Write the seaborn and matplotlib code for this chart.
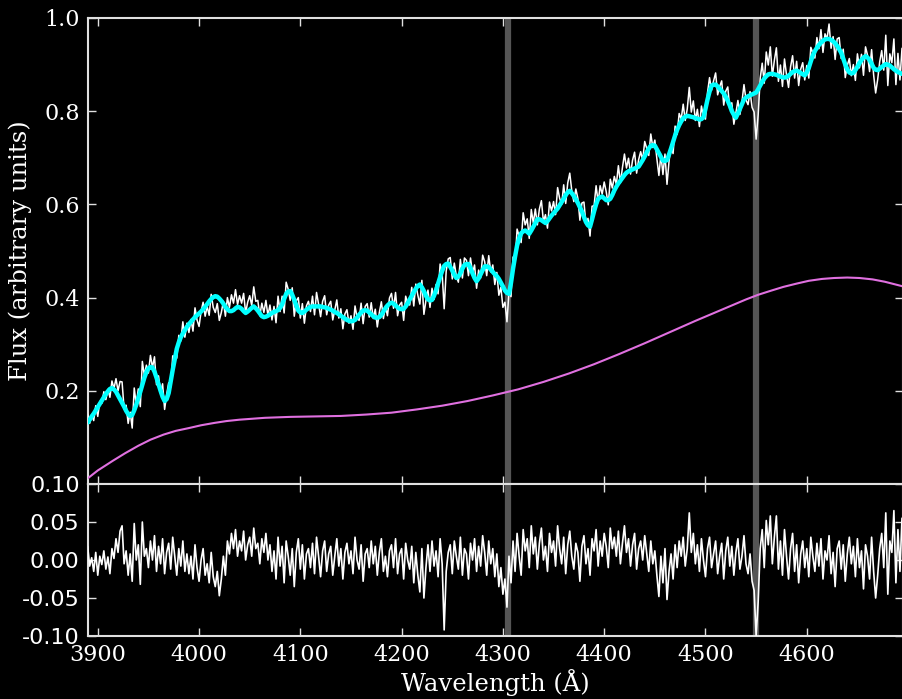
import numpy as np
import pandas as pd
import matplotlib
matplotlib.use("Agg")
import matplotlib.pyplot as plt
import seaborn as sns
from matplotlib.ticker import FormatStrFormatter

# Wavelength grid of the spectrum (Angstrom)
WAVE_START = 3890
WAVE_STEP = 2

# Best-fit template model (cyan), one value per grid point
model_flux = [
    0.132, 0.138, 0.145, 0.151, 0.158, 0.165, 0.172, 0.179, 0.186, 0.193,
    0.199, 0.204, 0.206, 0.203, 0.198, 0.190, 0.182, 0.174, 0.166, 0.157,
    0.150, 0.146, 0.148, 0.158, 0.170, 0.184, 0.198, 0.213, 0.228, 0.240,
    0.248, 0.251, 0.250, 0.241, 0.228, 0.214, 0.200, 0.187, 0.178, 0.182,
    0.195, 0.220, 0.245, 0.268, 0.290, 0.304, 0.315, 0.323, 0.330, 0.337,
    0.343, 0.348, 0.353, 0.358, 0.362, 0.366, 0.370, 0.375, 0.380, 0.386,
    0.392, 0.397, 0.401, 0.403, 0.402, 0.398, 0.393, 0.387, 0.380, 0.375,
    0.371, 0.371, 0.373, 0.377, 0.380, 0.379, 0.376, 0.371, 0.367, 0.370,
    0.374, 0.378, 0.381, 0.377, 0.372, 0.366, 0.360, 0.358, 0.359, 0.361,
    0.364, 0.367, 0.369, 0.371, 0.373, 0.378, 0.385, 0.397, 0.408, 0.413,
    0.414, 0.406, 0.395, 0.383, 0.372, 0.368, 0.367, 0.370, 0.374, 0.377,
    0.380, 0.381, 0.381, 0.381, 0.381, 0.381, 0.380, 0.379, 0.378, 0.376,
    0.374, 0.372, 0.369, 0.367, 0.364, 0.361, 0.358, 0.355, 0.352, 0.350,
    0.349, 0.350, 0.352, 0.357, 0.363, 0.368, 0.372, 0.373, 0.372, 0.368,
    0.364, 0.360, 0.357, 0.357, 0.358, 0.363, 0.370, 0.377, 0.383, 0.387,
    0.389, 0.387, 0.383, 0.379, 0.376, 0.375, 0.376, 0.381, 0.388, 0.396,
    0.404, 0.412, 0.419, 0.425, 0.428, 0.422, 0.414, 0.404, 0.396, 0.394,
    0.395, 0.404, 0.416, 0.430, 0.444, 0.457, 0.468, 0.472, 0.473, 0.466,
    0.458, 0.449, 0.442, 0.445, 0.452, 0.462, 0.470, 0.472, 0.472, 0.463,
    0.452, 0.442, 0.435, 0.441, 0.450, 0.459, 0.467, 0.467, 0.465, 0.460,
    0.455, 0.450, 0.446, 0.440, 0.432, 0.424, 0.415, 0.410, 0.408, 0.432,
    0.462, 0.488, 0.512, 0.527, 0.538, 0.542, 0.544, 0.541, 0.537, 0.544,
    0.552, 0.560, 0.568, 0.568, 0.566, 0.563, 0.560, 0.564, 0.570, 0.576,
    0.581, 0.586, 0.591, 0.598, 0.605, 0.612, 0.620, 0.626, 0.629, 0.624,
    0.618, 0.611, 0.603, 0.594, 0.585, 0.573, 0.562, 0.555, 0.552, 0.568,
    0.585, 0.600, 0.612, 0.615, 0.617, 0.613, 0.609, 0.609, 0.612, 0.620,
    0.630, 0.638, 0.645, 0.651, 0.657, 0.663, 0.668, 0.671, 0.673, 0.675,
    0.677, 0.679, 0.681, 0.688, 0.695, 0.703, 0.712, 0.720, 0.726, 0.727,
    0.726, 0.718, 0.710, 0.702, 0.694, 0.693, 0.695, 0.707, 0.720, 0.734,
    0.748, 0.760, 0.770, 0.778, 0.785, 0.788, 0.790, 0.789, 0.788, 0.787,
    0.785, 0.784, 0.782, 0.783, 0.787, 0.805, 0.825, 0.842, 0.855, 0.857,
    0.857, 0.853, 0.848, 0.843, 0.838, 0.831, 0.822, 0.812, 0.800, 0.792,
    0.786, 0.795, 0.805, 0.815, 0.825, 0.829, 0.832, 0.834, 0.836, 0.838,
    0.840, 0.847, 0.855, 0.863, 0.870, 0.875, 0.879, 0.880, 0.880, 0.879,
    0.878, 0.876, 0.874, 0.873, 0.872, 0.873, 0.876, 0.880, 0.884, 0.886,
    0.887, 0.885, 0.882, 0.879, 0.877, 0.883, 0.893, 0.907, 0.920, 0.929,
    0.936, 0.942, 0.947, 0.951, 0.954, 0.955, 0.955, 0.953, 0.950, 0.946,
    0.940, 0.933, 0.925, 0.913, 0.900, 0.890, 0.883, 0.881, 0.882, 0.888,
    0.895, 0.903, 0.910, 0.915, 0.918, 0.915, 0.910, 0.902, 0.893, 0.889,
    0.888, 0.891, 0.895, 0.898, 0.901, 0.900, 0.898, 0.894, 0.890, 0.887,
    0.884, 0.882, 0.880,
]

# Data minus model, in units of 1e-3
residual_milli = [
    18, -8, 3, -15, 10, -20, 5, -6, 12, -12,
    4, -18, 15, 2, 28, 10, 38, 45, -5, 12,
    -20, 8, -28, 48, 0, 20, -32, 50, 5, 15,
    -10, 25, 0, 32, -15, 18, -5, 28, -18, 10,
    22, -12, 30, 5, -20, 15, -8, 25, -15, 8,
    -18, 5, -25, 20, -10, -28, 0, 15, -20, -5,
    -30, 10, -22, -35, -15, -47, -25, 5, -20, 25,
    8, 35, 15, 40, 5, 25, 12, 38, 0, 20,
    30, 5, 42, 15, 22, -5, 28, 10, 35, 0,
    20, -15, 12, -25, 30, -8, 18, -30, 25, 5,
    -20, 15, -35, 10, 28, -12, 20, -25, 8, 15,
    -10, 22, -18, 30, 5, -22, 12, 25, -15, 8,
    18, -20, 5, 28, -8, 15, -25, 10, 22, -5,
    12, -18, 30, 0, -12, 20, -28, 8, 15, -10,
    25, -5, 18, -20, 10, 28, -15, 5, -22, 12,
    20, -10, 28, -18, 8, 15, -25, 22, 0, -12,
    18, -30, 10, -20, -42, 15, -50, -10, 20, -15,
    25, -8, 12, -22, 28, -5, -92, -15, 10, 20,
    -18, 25, 5, -12, 30, -20, 15, 8, -25, 22,
    0, 28, -15, 18, -8, 32, 10, -20, 25, -5,
    15, -22, 8, -35, -10, -45, -25, -62, 5, -30,
    25, -15, 35, 5, -20, 40, 12, 28, -10, 45,
    8, 30, -12, 22, 42, 0, 18, -15, 35, 10,
    25, -8, 45, 15, -5, 30, -18, 20, 38, 5,
    -12, 22, 10, -28, 18, 32, -5, 15, -20, 28,
    12, 40, -8, 25, 5, 35, 18, -10, 42, 15,
    30, 5, 38, -5, 22, 45, 10, 28, -8, 20,
    35, -12, 15, 25, 0, 32, 8, -15, 25, -5,
    12, -20, -48, 5, -30, 15, -52, -15, 8, -25,
    20, -10, 25, 5, 30, -8, 15, 62, 10, 35,
    -5, 20, -15, 28, 0, -22, 15, 30, -10, 8,
    25, -18, 5, 22, -25, 12, 30, -8, 18, -20,
    10, 28, -12, 5, 32, -5, -18, 8, -28, -40,
    -100, -55, 15, 40, -10, 52, 20, 58, -5, 30,
    58, -12, 25, -20, 40, 5, -25, 15, 35, -15,
    20, -30, 8, 25, -10, 15, -22, 30, 5, -15,
    22, -8, 28, -25, 12, 0, 32, -18, 10, -35,
    15, 25, -12, 20, -28, 8, 30, -5, 18, -22,
    28, -10, 12, -38, 20, 5, -25, 30, -15, -50,
    -20, 15, 35, -10, 62, -45, 25, 10, 65, -30,
    40, -15, 55,
]

# Smooth continuum component (magenta)
cont_wave = [3890, 3900, 3915, 3927, 3940, 3952, 3965, 3977, 3990, 4002,
             4015, 4027, 4040, 4065, 4090, 4115, 4140, 4165, 4190, 4215,
             4240, 4265, 4290, 4315, 4340, 4365, 4390, 4415, 4440, 4465,
             4490, 4515, 4540, 4552, 4565, 4577, 4590, 4602, 4615, 4627,
             4640, 4652, 4665, 4677, 4686, 4695]
cont_flux = [0.012, 0.029, 0.050, 0.066, 0.082, 0.095, 0.106, 0.114, 0.120, 0.126,
             0.131, 0.135, 0.138, 0.142, 0.144, 0.145, 0.146, 0.149, 0.153, 0.160,
             0.168, 0.178, 0.190, 0.203, 0.219, 0.237, 0.257, 0.279, 0.302, 0.326,
             0.350, 0.373, 0.396, 0.406, 0.415, 0.423, 0.430, 0.436, 0.440, 0.442,
             0.443, 0.442, 0.439, 0.434, 0.429, 0.424]

# Masked absorption features
line_marks = [4305, 4550]

wave_ticks = [3900, 4000, 4100, 4200, 4300, 4400, 4500, 4600]
flux_ticks = [0.2, 0.4, 0.6, 0.8, 1.0]
resid_ticks = [-0.10, -0.05, 0.00, 0.05, 0.10]

# ---------------------------------------------------------------------------
wave = WAVE_START + WAVE_STEP * np.arange(len(model_flux))
model = np.array(model_flux)
resid = np.array(residual_milli) / 1000.0
flux = model + resid

spec = pd.DataFrame({"wave": wave, "flux": flux, "model": model, "resid": resid})
cont = pd.DataFrame({"wave": cont_wave, "flux": cont_flux})

sns.set_theme(style="ticks")
plt.rcParams.update({
    "font.family": ["DejaVu Serif"],
    "figure.facecolor": "black",
    "axes.facecolor": "black",
    "axes.edgecolor": "#e0e0e0",
    "axes.linewidth": 1.5,
    "text.color": "white",
    "axes.labelcolor": "white",
    "xtick.color": "#e0e0e0",
    "ytick.color": "#e0e0e0",
    "xtick.labelcolor": "white",
    "ytick.labelcolor": "white",
    "savefig.facecolor": "black",
})

fig = plt.figure(figsize=(9.03, 6.99), dpi=100)
left, width = 0.0975, 0.9025
ax_top = fig.add_axes([left, 0.3076, width, 0.6667])
ax_bot = fig.add_axes([left, 0.0901, width, 0.2175], sharex=ax_top)

for ax in (ax_top, ax_bot):
    for w in line_marks:
        ax.axvline(w, color="#555555", lw=4.5, zorder=1)

sns.lineplot(data=spec, x="wave", y="flux", ax=ax_top, color="white", lw=1.1,
             estimator=None, sort=False, zorder=3)
sns.lineplot(data=spec, x="wave", y="model", ax=ax_top, color="#00ffff", lw=3.2,
             estimator=None, sort=False, zorder=4)
sns.lineplot(data=cont, x="wave", y="flux", ax=ax_top, color="#e070e0", lw=1.5,
             estimator=None, sort=False, zorder=4)
sns.lineplot(data=spec, x="wave", y="resid", ax=ax_bot, color="white", lw=1.2,
             estimator=None, sort=False, zorder=3)

ax_top.set_xlim(3890.4, 4695)
ax_top.set_ylim(0.0, 1.0)
ax_bot.set_ylim(-0.10, 0.10)

ax_top.set_yticks(flux_ticks)
ax_top.yaxis.set_major_formatter(FormatStrFormatter("%.1f"))
ax_bot.set_yticks(resid_ticks)
ax_bot.yaxis.set_major_formatter(FormatStrFormatter("%.2f"))
ax_bot.set_xticks(wave_ticks)

for ax in (ax_top, ax_bot):
    ax.tick_params(direction="in", top=True, right=True, length=6, width=1.0,
                   labelsize=16, pad=6)
ax_top.tick_params(labelbottom=False)
for lab in ax_bot.get_yticklabels():
    lab.set_fontfamily("DejaVu Sans")

ax_top.set_xlabel("")
ax_top.set_ylabel("Flux (arbitrary units)", fontsize=17.5, labelpad=9)
ax_bot.set_ylabel("")
ax_bot.set_xlabel("Wavelength (Å)", fontsize=17.5, labelpad=2)

fig.savefig("out.png", dpi=100, facecolor="black")
